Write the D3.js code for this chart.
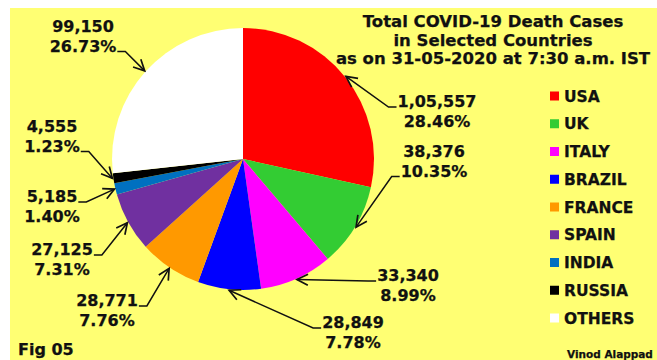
<!DOCTYPE html>
<html>
<head>
<meta charset="utf-8">
<script src="https://cdn.jsdelivr.net/npm/d3@7"></script>
<style>
  html, body { margin: 0; padding: 0; background: #fff; }
  svg { display: block; }
  text { font-family: "DejaVu Sans", Verdana, sans-serif; font-weight: bold; fill: #111; stroke: #111; stroke-width: 0.25; }
</style>
</head>
<body>
<svg id="chart" width="657" height="360"></svg>
<script>
// Total COVID-19 deaths by country, 31-05-2020 07:30 IST
const countries = ["USA", "UK", "ITALY", "BRAZIL", "FRANCE", "SPAIN", "INDIA", "RUSSIA", "OTHERS"];
const deaths = [105557, 38376, 33340, 28849, 28771, 27125, 5185, 4555, 99150];
const sliceColors = ["#ff0000", "#33cc33", "#ff00ff", "#0000ff", "#ff9900", "#7030a0", "#0070c0", "#000000", "#ffffff"];
const titleLines = ["Total COVID-19 Death Cases", "in Selected Countries", "as on 31-05-2020 at 7:30 a.m. IST"];

// Where each value label sits and which of its lines the arrow leaves from
const labelLayout = {
  USA:    { cx: 437, y: 107, line: 0, side: "start" },
  UK:     { cx: 434, y: 157, line: 1, side: "start" },
  ITALY:  { cx: 408, y: 281, line: 0, side: "start" },
  BRAZIL: { cx: 353, y: 328, line: 0, side: "start" },
  FRANCE: { cx: 107, y: 306, line: 0, side: "end" },
  SPAIN:  { cx: 62,  y: 255, line: 0, side: "end" },
  INDIA:  { cx: 52,  y: 202, line: 0, side: "end" },
  RUSSIA: { cx: 52,  y: 132, line: 1, side: "end" },
  OTHERS: { cx: 83,  y: 32,  line: 1, side: "end" }
};

const svg = d3.select("#chart");
const W = 657, H = 360;

// yellow panel
svg.append("rect").attr("x", 10).attr("y", 8).attr("width", W - 10).attr("height", H - 8)
  .attr("fill", "#ffff73");

const data = countries.map((c, i) => ({ name: c, value: deaths[i], color: sliceColors[i] }));
const total = d3.sum(deaths);
const indian = d3.formatLocale({ decimal: ".", thousands: ",", grouping: [3, 2], currency: ["", ""] }).format(",");
const pct = d3.format(".2f");

const cx = 243, cy = 159, R = 131;
const pie = d3.pie().sort(null).value(d => d.value);
const arc = d3.arc().innerRadius(0).outerRadius(R);
const arcs = pie(data);

const g = svg.append("g").attr("transform", `translate(${cx},${cy})`);
g.selectAll("path.slice").data(arcs).join("path")
  .attr("class", "slice")
  .attr("d", arc)
  .attr("fill", d => d.data.color);

// open arrowhead
svg.append("defs").append("marker")
  .attr("id", "head").attr("markerUnits", "userSpaceOnUse")
  .attr("markerWidth", 16).attr("markerHeight", 16)
  .attr("refX", 12).attr("refY", 8).attr("orient", "auto")
  .append("path").attr("d", "M1,2.5 L12,8 L1,13.5")
  .attr("fill", "none").attr("stroke", "#111").attr("stroke-width", 1.7);

const lineH = 19.5;
const fs = 16;

arcs.forEach(a => {
  const L = labelLayout[a.data.name];
  const lines = [indian(a.data.value), pct(a.data.value / total * 100) + "%"];
  const tg = svg.append("g");
  const texts = lines.map((s, i) => tg.append("text")
    .attr("x", L.cx).attr("y", L.y + i * lineH)
    .attr("text-anchor", "middle").attr("font-size", fs).text(s));
  const t = texts[L.line].node();
  const w = t.getComputedTextLength();
  const by = L.y + L.line * lineH;
  const sx = L.side === "start" ? L.cx - w / 2 - 1 : L.cx + w / 2 + 1;
  const ex = L.side === "start" ? sx - 8 : sx + 8;
  const mid = (a.startAngle + a.endAngle) / 2;
  const tipR = R + 1;
  const tx = cx + Math.sin(mid) * tipR, ty = cy - Math.cos(mid) * tipR;
  svg.append("path")
    .attr("d", d3.line()([[sx, by], [ex, by], [tx, ty]]))
    .attr("fill", "none").attr("stroke", "#111").attr("stroke-width", 1.5)
    .attr("marker-end", "url(#head)");
});

// title
svg.append("g").selectAll("text").data(titleLines).join("text")
  .attr("x", 493).attr("y", (d, i) => 27 + i * 18.5)
  .attr("text-anchor", "middle").attr("font-size", 16.5).text(d => d);

// legend
const legY = d3.scalePoint().domain(countries).range([96, 318]);
const leg = svg.append("g").selectAll("g").data(data).join("g")
  .attr("transform", d => `translate(550,${legY(d.name)})`);
leg.append("rect").attr("x", 0).attr("y", -4.5).attr("width", 9).attr("height", 9)
  .attr("fill", d => d.color);
leg.append("text").attr("x", 14).attr("y", 5.5).attr("font-size", 15.5).text(d => d.name);

// footer
svg.append("text").attr("x", 18).attr("y", 355).attr("font-size", 16).text("Fig 05");
svg.append("text").attr("x", 567).attr("y", 358).attr("font-size", 10.5).text("Vinod Alappad");
</script>
</body>
</html>
